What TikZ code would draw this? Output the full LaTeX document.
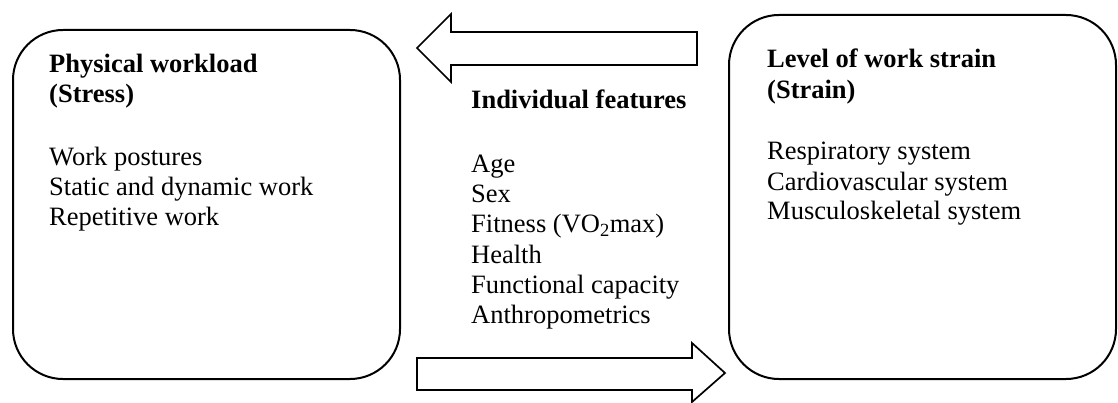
\documentclass[tikz,border=0pt]{standalone}
\usepackage{fontspec}
\setmainfont{Liberation Serif}
\begin{document}
\begin{tikzpicture}[x=1pt,y=-1pt,
  box/.style={draw=black,line width=2pt,rounded corners=50pt,inner sep=0pt},
  blockarrow/.style={draw=black,line width=1.7pt,fill=white,line join=miter},
  txt/.style={anchor=base west,inner sep=0pt,font=\fontsize{26.5}{30}\selectfont},
  hd/.style={txt,font=\fontsize{26.5}{30}\selectfont\bfseries}]
\useasboundingbox (0,0) rectangle (1118,403);
% boxes
\draw[box] (13,30) rectangle (400,379);
\node[inner sep=0pt] (lbox) at (206.5,204.5) {};
\draw[box] (729,15) rectangle (1116,379);
\node[inner sep=0pt] (rbox) at (922.5,197) {};
% block arrows
\draw[blockarrow] (697,32) -- (451,32) -- (451,14) -- (417,48) -- (451,82) -- (451,65) -- (697,65) -- cycle;
\draw[blockarrow] (417,358) -- (692,358) -- (692,343) -- (725,373) -- (692,402) -- (692,390) -- (417,390) -- cycle;
% left box text
\node[hd] (l1) at (49,73) {Physical workload};
\node[hd] (l2) at (49,103) {(Stress)};
\node[txt] (l3) at (49,166) {Work postures};
\node[txt] (l4) at (49,196) {Static and dynamic work};
\node[txt] (l5) at (49,226) {Repetitive work};
% middle text
\node[hd] (m0) at (471,109) {Individual features};
\node[txt] (m1) at (471,173) {Age};
\node[txt] (m2) at (471,203) {Sex};
\node[txt] (m3) at (471,233) {Fitness (VO\textsubscript{2}max)};
\node[txt] (m4) at (471,263) {Health};
\node[txt] (m5) at (471,293) {Functional capacity};
\node[txt] (m6) at (471,323) {Anthropometrics};
% right box text
\node[hd] (r1) at (767,68) {Level of work strain};
\node[hd] (r2) at (767,99) {(Strain)};
\node[txt] (r3) at (767,160) {Respiratory system};
\node[txt] (r4) at (767,191) {Cardiovascular system};
\node[txt] (r5) at (767,220) {Musculoskeletal system};
\end{tikzpicture}
\end{document}
